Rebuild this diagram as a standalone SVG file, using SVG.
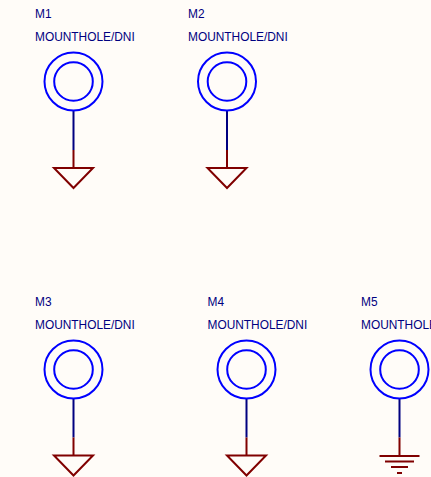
<svg xmlns="http://www.w3.org/2000/svg" width="431" height="477" viewBox="0 0 431 477">
<style>
text{font-family:"Liberation Sans",Arial,sans-serif;font-size:11.9px;fill:#000080}
.c{fill:none;stroke:#0000ff;stroke-width:2}
.w{fill:none;stroke:#000080;stroke-width:2}
.g{fill:none;stroke:#800000;stroke-width:2}
</style>
<defs>
<g id="hole"><circle class="c" cx="0" cy="0" r="29"/><circle class="c" cx="0" cy="0" r="19.3"/></g>
<path id="tri" class="g" d="M0 0V18M-19.500 18H19.500L0 38Z"/>
</defs>
<rect width="431" height="477" fill="#fffcf8"/>
<g id="connectors">
<path class="w" d="M73.500 110.500V150M227 110.500V150M73.500 398.500V437.500M246.500 398.500V437.500M399.500 398.500V437.500"/>
<use href="#tri" x="73.500" y="150"/>
<use href="#tri" x="227" y="150"/>
<use href="#tri" x="73.500" y="437.500"/>
<use href="#tri" x="246.500" y="437.500"/>
<path class="g" d="M399.500 437.500V456M379.500 456H419.500M385 461.500H414M391 467H408M397 473H402"/>
</g>
<g id="M1"><use href="#hole" x="73.500" y="81.500"/><text x="35" y="18">M1</text><text x="35" y="41">MOUNTHOLE/DNI</text></g>
<g id="M2"><use href="#hole" x="227" y="81.500"/><text x="188" y="18">M2</text><text x="188" y="41">MOUNTHOLE/DNI</text></g>
<g id="M3"><use href="#hole" x="73.500" y="369.500"/><text x="35" y="306">M3</text><text x="35" y="329">MOUNTHOLE/DNI</text></g>
<g id="M4"><use href="#hole" x="246.500" y="369.500"/><text x="207.500" y="306">M4</text><text x="207.500" y="329">MOUNTHOLE/DNI</text></g>
<g id="M5"><use href="#hole" x="399.500" y="369.500"/><text x="361" y="306">M5</text><text x="361" y="329">MOUNTHOLE/DNI</text></g>
</svg>
